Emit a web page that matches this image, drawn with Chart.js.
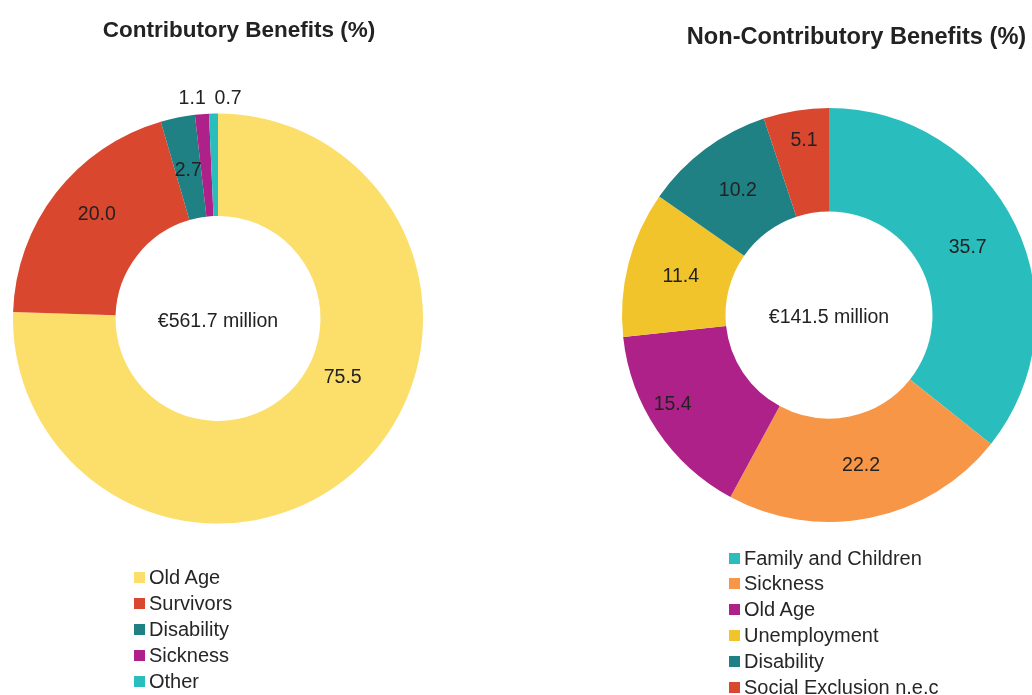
<!DOCTYPE html>
<html>
<head>
<meta charset="utf-8">
<script src="https://cdn.jsdelivr.net/npm/chart.js@4.4.1/dist/chart.umd.min.js"></script>
<style>
  html, body { margin: 0; padding: 0; width: 1032px; height: 695px; overflow: hidden; background: #fff; }
  body { position: relative; font-family: "Liberation Sans", Arial, sans-serif; color: #262626; }
  .wrap { position: absolute; top: 0; height: 695px; }
  .title { position: absolute; transform: translate(-50%, -50%); font-weight: bold; font-size: 22.5px; white-space: nowrap; color: #222; line-height: 1; }
  .legend { position: absolute; }
  .legend .row { position: absolute; left: 0; height: 26px; display: flex; align-items: center; white-space: nowrap; font-size: 20px; color: #262626; }
  .legend .sw { width: 11px; height: 11px; margin-right: 4px; display: inline-block; }
</style>
</head>
<body>
<div class="wrap" style="left:0;width:516px;"><canvas id="c1" width="516" height="695" style="width:516px;height:695px"></canvas></div>
<div class="wrap" style="left:516px;width:520px;"><canvas id="c2" width="520" height="695" style="width:520px;height:695px"></canvas></div>
<div class="title" id="t1" style="left:239px;top:30px;"></div>
<div class="title" id="t2" style="left:856.5px;top:37px;font-size:23.6px;"></div>
<div class="legend" id="l1" style="left:134px;top:564px;"></div>
<div class="legend" id="l2" style="left:729px;top:545px;"></div>
<script>
// ---- Data ----
const contribTitle = "Contributory Benefits (%)";
const contribLabels = ["Old Age", "Survivors", "Disability", "Sickness", "Other"];
const contribValues = [75.5, 20.0, 2.7, 1.1, 0.7];
const contribColors = ["#FCDE6A", "#D9472F", "#1F8184", "#AE2189", "#2ABDBD"];
const contribTotal = "€561.7 million";

const nonContribTitle = "Non-Contributory Benefits (%)";
const nonContribLabels = ["Family and Children", "Sickness", "Old Age", "Unemployment", "Disability", "Social Exclusion n.e.c"];
const nonContribValues = [35.7, 22.2, 15.4, 11.4, 10.2, 5.1];
const nonContribColors = ["#2ABDBD", "#F79646", "#AE2189", "#F2C42B", "#1F8184", "#D9472F"];
const nonContribTotal = "€141.5 million";

// label placement tweaks (angle shift in degrees, radius as fraction of outer radius)
const contribLabelPlace = [[-20.6, 0.673], [2.9, 0.78], [0, 0.737], [-2.2, 1.08], [3.9, 1.073]];
const nonContribLabelPlace = [[0, 0.744], [-0.5, 0.744], [4.1, 0.87], [0, 0.739], [0.4, 0.744], [1, 0.85]];

const FONT = "'Liberation Sans', Arial, sans-serif";

const valueLabels = {
  id: 'valueLabels',
  afterDatasetsDraw(chart, args, opts) {
    const ctx = chart.ctx;
    const meta = chart.getDatasetMeta(0);
    const vals = chart.data.datasets[0].data;
    ctx.save();
    ctx.font = "19.5px " + FONT;
    ctx.fillStyle = "#222";
    ctx.textAlign = "center";
    ctx.textBaseline = "middle";
    meta.data.forEach((arc, i) => {
      const p = arc.getProps(['x', 'y', 'startAngle', 'endAngle', 'outerRadius'], true);
      const place = opts.place[i] || [0, 0.75];
      const a = (p.startAngle + p.endAngle) / 2 + place[0] * Math.PI / 180;
      const r = p.outerRadius * place[1];
      ctx.fillText(Number(vals[i]).toFixed(1), p.x + Math.cos(a) * r, p.y + Math.sin(a) * r);
    });
    // center text
    const a0 = meta.data[0];
    ctx.font = "19.5px " + FONT;
    ctx.fillText(opts.center, a0.x, a0.y + 3);
    ctx.restore();
  }
};

function makeChart(id, labels, values, colors, place, center, padding) {
  return new Chart(document.getElementById(id), {
    type: 'doughnut',
    data: {
      labels: labels,
      datasets: [{ data: values, backgroundColor: colors, borderWidth: 0, hoverOffset: 0 }]
    },
    options: {
      responsive: false,
      animation: false,
      cutout: '50%',
      layout: { padding: padding },
      plugins: {
        legend: { display: false },
        title: { display: false },
        tooltip: { enabled: false },
        valueLabels: { place: place, center: center }
      }
    },
    plugins: [valueLabels]
  });
}

makeChart('c1', contribLabels, contribValues, contribColors, contribLabelPlace, contribTotal,
  { left: 13, top: 113.5, right: 93, bottom: 171.5 });
makeChart('c2', nonContribLabels, nonContribValues, nonContribColors, nonContribLabelPlace, nonContribTotal,
  { left: 106, top: 108, right: 0, bottom: 173 });

function buildLegend(elId, labels, colors, step) {
  const el = document.getElementById(elId);
  labels.forEach((lab, i) => {
    const row = document.createElement('div');
    row.className = 'row';
    row.style.top = (i * step) + 'px';
    const sw = document.createElement('span');
    sw.className = 'sw';
    sw.style.background = colors[i];
    const tx = document.createElement('span');
    tx.textContent = lab;
    row.appendChild(sw);
    row.appendChild(tx);
    el.appendChild(row);
  });
}
document.getElementById('t1').textContent = contribTitle;
document.getElementById('t2').textContent = nonContribTitle;
buildLegend('l1', contribLabels, contribColors, 26);
buildLegend('l2', nonContribLabels, nonContribColors, 25.8);
</script>
</body>
</html>
